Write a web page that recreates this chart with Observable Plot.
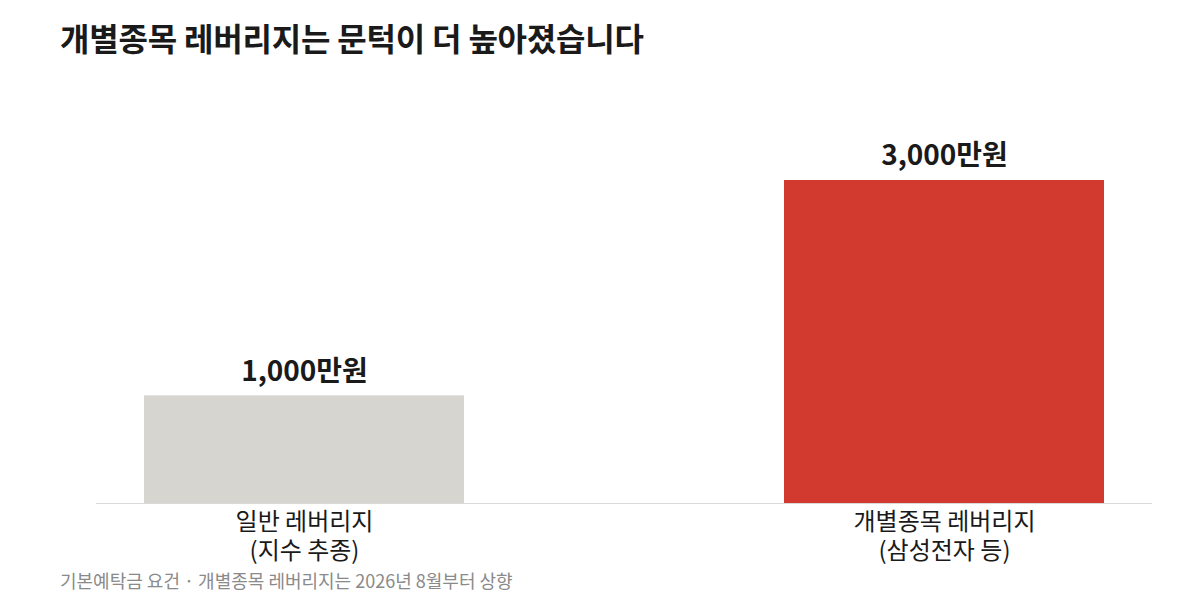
<!DOCTYPE html>
<html><head><meta charset="utf-8">
<script src="https://cdn.jsdelivr.net/npm/d3@7"></script>
<script src="https://cdn.jsdelivr.net/npm/@observablehq/plot@0.6"></script>
<style>
body{margin:0;background:#fff;font-family:"Noto Sans CJK KR","Noto Sans",sans-serif;width:1200px;height:600px;overflow:hidden;}
#title{position:absolute;left:60px;top:15px;font-size:32px;font-weight:700;color:#1a1a1a;line-height:44px;letter-spacing:-0.2px;}
#chart{position:absolute;left:0;top:72px;}
#caption{position:absolute;left:60px;top:567px;font-size:18px;color:#8a8a8a;line-height:26px;}
</style></head>
<body>
<div id="title">개별종목 레버리지는 문턱이 더 높아졌습니다</div>
<div id="chart"></div>
<div id="caption">기본예탁금 요건 · 개별종목 레버리지는 2026년 8월부터 상향</div>
<script>
const categories = ["일반 레버리지\n(지수 추종)", "개별종목 레버리지\n(삼성전자 등)"];
const values = [1000, 3000];
const valueLabels = ["1,000만원", "3,000만원"];
const colors = ["#d6d5d0", "#d33a2f"];

const data = categories.map((c, i) => ({cat: c, value: values[i], label: valueLabels[i], color: colors[i]}));

const chart = Plot.plot({
  width: 1200,
  height: 496,
  marginLeft: 96,
  marginRight: 48,
  marginTop: 108,
  marginBottom: 65,
  style: {fontFamily: '"Noto Sans CJK KR","Noto Sans",sans-serif', background: "transparent"},
  x: {domain: categories, paddingInner: 0.5, paddingOuter: 0.075, label: null},
  y: {domain: [0, 3000], axis: null},
  marks: [
    Plot.barY(data, {x: "cat", y: "value", fill: "color"}),
    Plot.ruleY([0], {stroke: "#d9d9d9", strokeWidth: 1}),
    Plot.text(data, {x: "cat", y: "value", text: "label", dy: -24, fontSize: 28, fontWeight: 700, fill: "#1a1a1a"}),
    Plot.axisX({tickSize: 0, tickPadding: 6, fontSize: 24, color: "#1a1a1a", lineHeight: 1.2, label: null})
  ]
});
document.getElementById("chart").appendChild(chart);
</script>
</body></html>
